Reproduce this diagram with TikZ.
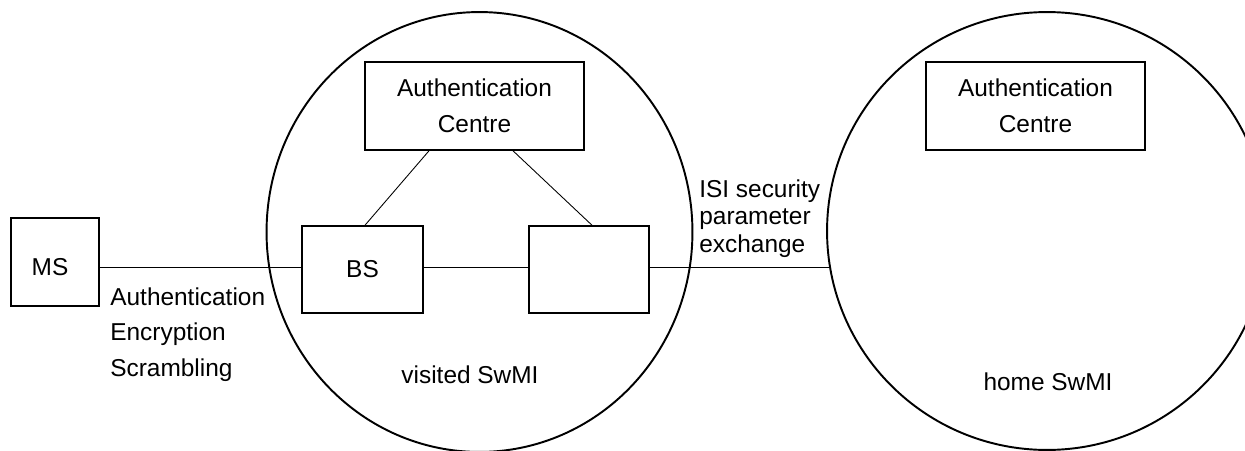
\documentclass[tikz,border=0pt]{standalone}
\usepackage{fontspec}
\setmainfont{Liberation Sans}
\usetikzlibrary{shapes.geometric}
\begin{document}
\begin{tikzpicture}[
    x=0.02cm, y=-0.02cm,
    font=\fontsize{13.9}{20.4}\selectfont,
    unit/.style={rectangle, draw, line width=0.9pt, align=center},
    swmi/.style={ellipse, draw, line width=1.1pt, inner sep=0pt},
    link/.style={line width=0.5pt},
    txt/.style={inner sep=0pt, align=left, anchor=north west}
    ]
	\path[use as bounding box, clip] (0,0) rectangle (1245,450);
	\node [swmi, minimum width=8.52cm, minimum height=8.8cm] (visited) at (479.5,232) {};
	\node [swmi, minimum width=8.8cm, minimum height=8.76cm] (home) at (1047,231) {};
	\node [unit, minimum width=1.76cm, minimum height=1.76cm, text height=15.6pt] (ms) at (55,262) {MS\hspace{0.2cm}};
	\node [unit, minimum width=2.42cm, minimum height=1.74cm] (bs) at (362.5,269.5) {BS};
	\node [unit, minimum width=2.40cm, minimum height=1.74cm] (gw) at (589,269.5) {};
	\node [unit, minimum width=4.38cm, minimum height=1.76cm] (acv) at (474.5,106) {Authentication\\Centre};
	\node [unit, minimum width=4.38cm, minimum height=1.76cm] (ach) at (1035.5,106) {Authentication\\Centre};
	\coordinate (lnk) at (0,267);
	\draw [link] (ms.east |- lnk) -- (bs.west |- lnk);
	\draw [link] (bs.east |- lnk) -- (gw.west |- lnk);
	\draw [link] (gw.east |- lnk) -- (lnk -| home.189);
	\draw [link] ([xshift=-0.91cm]acv.south) -- ([xshift=0.05cm]bs.north);
	\draw [link] ([xshift=0.77cm]acv.south) -- ([xshift=0.06cm]gw.north);
	\node [txt] (air) at (110,287) {Authentication\\Encryption\\Scrambling};
	\node [txt, font=\fontsize{13.9}{15.9}\selectfont] (isi) at (699,179) {ISI security\\parameter\\exchange};
	\node [anchor=base, inner sep=0pt] (vname) at (470,383) {visited SwMI};
	\node [anchor=base, inner sep=0pt] (hname) at (1048,390) {home SwMI};
\end{tikzpicture}
\end{document}
